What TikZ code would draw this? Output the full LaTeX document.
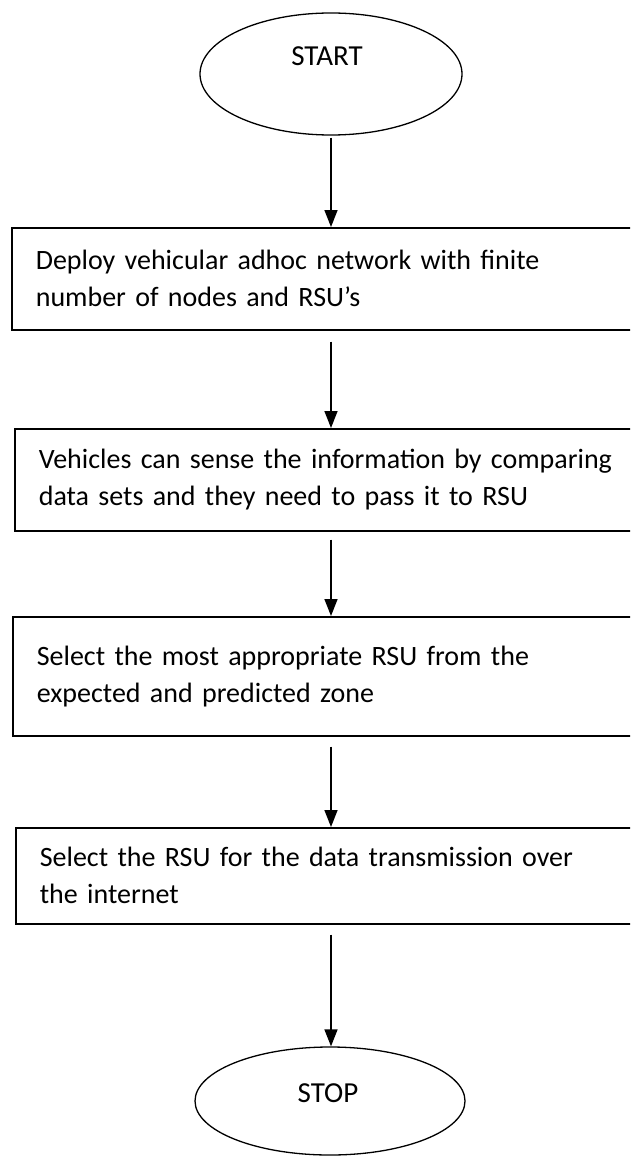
\documentclass[tikz,border=0pt]{standalone}
\usepackage{fontspec}
\setmainfont{Carlito}
\usetikzlibrary{shapes.geometric,arrows.meta}
\begin{document}
\begin{tikzpicture}[x=1pt,y=-1pt,
  every node/.style={font=\fontsize{28}{37}\selectfont},
  terminal/.style={draw, ellipse, line width=1.3pt, minimum width=262pt,
    minimum height=122pt, inner sep=0pt},
  tlabel/.style={font=\fontsize{29}{32}\selectfont, inner sep=0pt},
  stepbox/.style={draw, rectangle, line width=1.6pt, anchor=north west,
    inner xsep=24pt, inner ysep=0pt, align=left},
  arr/.style={-{Triangle[length=17pt,width=13pt]}, line width=1.5pt}]
\useasboundingbox (0,0) rectangle (630,1161);
\clip (0,0) rectangle (630,1161);

% terminals
\node[terminal] (start) at (331,74) {};
\node[tlabel] (startlbl) at (327,56) {START};
\node[terminal, minimum width=270pt, minimum height=108pt] (stop) at (330,1101) {};
\node[tlabel] (stoplbl) at (328,1093) {STOP};

% process steps (boxes run past the right edge)
\node[stepbox, text width=601pt, minimum height=102pt] (b1) at (11,227)
  {Deploy vehicular adhoc network with finite\\number of nodes and RSU’s};
\node[stepbox, text width=598pt, minimum height=102pt] (b2) at (14,428)
  {Vehicles can sense the information by comparing\\data sets and they need to pass it to RSU};
\node[stepbox, text width=600pt, minimum height=119pt] (b3) at (12,616)
  {Select the most appropriate RSU from the\\expected and predicted zone};
\node[stepbox, text width=597pt, minimum height=96pt] (b4) at (15,827)
  {Select the RSU for the data transmission over\\the internet};

% flow
\coordinate (ax) at (331,0);
\draw[arr, shorten <=2pt] (start.south -| ax) -- (b1.north -| ax);
\draw[arr, shorten <=11pt] (b1.south -| ax) -- (b2.north -| ax);
\draw[arr, shorten <=8pt] (b2.south -| ax) -- (b3.north -| ax);
\draw[arr, shorten <=10pt] (b3.south -| ax) -- (b4.north -| ax);
\draw[arr, shorten <=10pt] (b4.south -| ax) -- (stop.north -| ax);
\end{tikzpicture}
\end{document}
